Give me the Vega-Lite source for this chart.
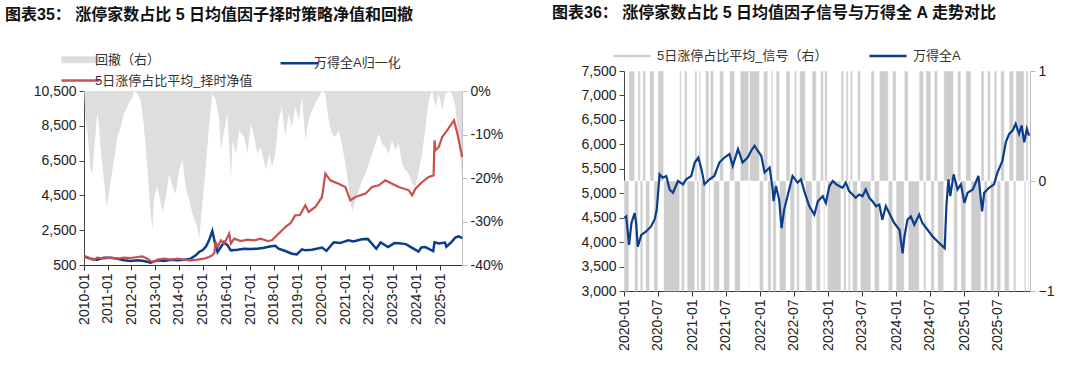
{
  "$schema": "https://vega.github.io/schema/vega-lite/v6.json",
  "padding": {"left": 5, "top": 5, "right": 5, "bottom": 5},
  "background": "white",
  "config": {
    "view": {"stroke": null},
    "font": "Liberation Sans, Noto Sans CJK SC",
    "axis": {"labelFont": "Liberation Sans", "labelFontSize": 14, "labelColor": "#222", "grid": false, "domainColor": "#444", "tickColor": "#444", "tickSize": 5, "labelPadding": 3, "title": null},
    "legend": {"labelFont": "Liberation Sans, Noto Sans CJK SC", "labelFontSize": 13, "labelColor": "#333"},
    "title": {"font": "Liberation Sans, Noto Sans CJK SC", "fontSize": 16, "fontWeight": "bold", "color": "#111", "anchor": "start", "frame": "group"},
    "concat": {"spacing": 42}
  },
  "resolve": {"scale": {"color": "independent"}, "legend": {"color": "independent"}},
  "datasets": {
    "dd": [
      {"date": "2010-01-04", "value": 0}, {"date": "2010-01-27", "value": -7}, {"date": "2010-02-21", "value": -9}, {"date": "2010-04-12", "value": -18}, {"date": "2010-05-08", "value": -19}, {"date": "2010-06-03", "value": -14.4}, {"date": "2010-07-12", "value": -6.7}, {"date": "2010-08-03", "value": -5.2}, {"date": "2010-09-13", "value": -12.9}, {"date": "2010-11-03", "value": -20.5}, {"date": "2010-12-17", "value": -26.7},
      {"date": "2011-01-19", "value": -23.6}, {"date": "2011-03-14", "value": -18.2}, {"date": "2011-05-30", "value": -10.6}, {"date": "2011-07-19", "value": -8.3}, {"date": "2011-09-09", "value": -5.2}, {"date": "2011-10-30", "value": -3.7},
      {"date": "2012-01-15", "value": -1.4}, {"date": "2012-02-10", "value": 0}, {"date": "2012-04-01", "value": -0.6}, {"date": "2012-05-22", "value": -2.1}, {"date": "2012-07-12", "value": -8.3}, {"date": "2012-09-02", "value": -17.5}, {"date": "2012-10-23", "value": -28.2}, {"date": "2012-11-18", "value": -32}, {"date": "2012-12-13", "value": -24.4},
      {"date": "2013-02-03", "value": -22}, {"date": "2013-04-23", "value": -27.8}, {"date": "2013-06-13", "value": -24.4}, {"date": "2013-08-04", "value": -19}, {"date": "2013-09-24", "value": -22}, {"date": "2013-11-14", "value": -23.6},
      {"date": "2014-01-04", "value": -18.2}, {"date": "2014-02-25", "value": -16}, {"date": "2014-04-16", "value": -22.4}, {"date": "2014-06-06", "value": -24.8}, {"date": "2014-07-27", "value": -28.2}, {"date": "2014-10-12", "value": -31.4}, {"date": "2014-11-07", "value": -34}, {"date": "2014-12-28", "value": -26},
      {"date": "2015-02-17", "value": -17.5}, {"date": "2015-04-09", "value": -8.3}, {"date": "2015-05-30", "value": -0.6}, {"date": "2015-07-24", "value": -2.1}, {"date": "2015-09-13", "value": -6.7}, {"date": "2015-10-08", "value": -13.6}, {"date": "2015-11-28", "value": -9},
      {"date": "2016-01-19", "value": -5.2}, {"date": "2016-03-10", "value": -20.5}, {"date": "2016-04-05", "value": -11.3}, {"date": "2016-05-26", "value": -14.4}, {"date": "2016-07-16", "value": -9}, {"date": "2016-10-01", "value": -10.6}, {"date": "2016-11-21", "value": -14.4},
      {"date": "2017-01-12", "value": -7.5}, {"date": "2017-03-04", "value": -10.6}, {"date": "2017-04-23", "value": -14.4}, {"date": "2017-06-13", "value": -12.9}, {"date": "2017-09-02", "value": -18.2}, {"date": "2017-10-23", "value": -14.4}, {"date": "2017-12-02", "value": -17.5},
      {"date": "2018-01-23", "value": -14.4}, {"date": "2018-03-14", "value": -6.7}, {"date": "2018-05-04", "value": -3.7}, {"date": "2018-06-25", "value": -10.6}, {"date": "2018-08-15", "value": -5.2}, {"date": "2018-10-05", "value": -8.3}, {"date": "2018-11-25", "value": -3.7},
      {"date": "2019-01-19", "value": -6.7}, {"date": "2019-03-10", "value": -1.4}, {"date": "2019-04-30", "value": -11.3}, {"date": "2019-06-20", "value": -6.7}, {"date": "2019-08-10", "value": -4.4}, {"date": "2019-10-27", "value": -2.1},
      {"date": "2020-01-12", "value": 0}, {"date": "2020-03-03", "value": -0.6}, {"date": "2020-04-23", "value": -6.7}, {"date": "2020-06-13", "value": -9.8}, {"date": "2020-08-03", "value": -10.6}, {"date": "2020-09-23", "value": -9}, {"date": "2020-11-13", "value": -12.1},
      {"date": "2021-01-05", "value": -16.7}, {"date": "2021-02-25", "value": -22}, {"date": "2021-04-19", "value": -28}, {"date": "2021-06-09", "value": -25}, {"date": "2021-07-31", "value": -22.8}, {"date": "2021-09-20", "value": -20.5}, {"date": "2021-11-10", "value": -19},
      {"date": "2022-01-01", "value": -16.7}, {"date": "2022-02-21", "value": -14.4}, {"date": "2022-04-13", "value": -12.1}, {"date": "2022-06-03", "value": -9.8}, {"date": "2022-07-24", "value": -12.1}, {"date": "2022-09-13", "value": -12.9}, {"date": "2022-11-03", "value": -14.4}, {"date": "2022-12-25", "value": -11.3},
      {"date": "2023-02-14", "value": -13.6}, {"date": "2023-04-06", "value": -12.1}, {"date": "2023-05-27", "value": -16.7}, {"date": "2023-07-20", "value": -18.2}, {"date": "2023-09-09", "value": -19}, {"date": "2023-10-30", "value": -21.3}, {"date": "2023-12-20", "value": -22},
      {"date": "2024-02-10", "value": -18.2}, {"date": "2024-04-01", "value": -14.4}, {"date": "2024-05-22", "value": -8.3}, {"date": "2024-07-12", "value": -2.1}, {"date": "2024-09-02", "value": 0}, {"date": "2024-10-23", "value": -3.7}, {"date": "2024-12-13", "value": -0.6},
      {"date": "2025-02-03", "value": -4.4}, {"date": "2025-03-26", "value": -0.6}, {"date": "2025-05-16", "value": 0}, {"date": "2025-07-05", "value": -0.6}, {"date": "2025-08-25", "value": -3.7}, {"date": "2025-10-19", "value": -12}, {"date": "2025-12-08", "value": -20}
    ],
    "blue": [
      {"date": "2010-01-04", "value": 1000}, {"date": "2010-04-12", "value": 864}, {"date": "2010-07-22", "value": 807}, {"date": "2010-11-03", "value": 921},
      {"date": "2011-02-16", "value": 921}, {"date": "2011-05-30", "value": 864}, {"date": "2011-09-09", "value": 768}, {"date": "2011-12-20", "value": 730},
      {"date": "2012-04-01", "value": 768}, {"date": "2012-07-12", "value": 730}, {"date": "2012-10-23", "value": 634},
      {"date": "2013-02-03", "value": 768}, {"date": "2013-05-19", "value": 730}, {"date": "2013-08-29", "value": 807}, {"date": "2013-12-09", "value": 768},
      {"date": "2014-03-20", "value": 807}, {"date": "2014-07-01", "value": 864}, {"date": "2014-09-17", "value": 1056}, {"date": "2014-11-07", "value": 1247}, {"date": "2014-12-28", "value": 1343},
      {"date": "2015-02-17", "value": 1535}, {"date": "2015-04-09", "value": 1918}, {"date": "2015-05-30", "value": 2454}, {"date": "2015-07-12", "value": 1726}, {"date": "2015-08-18", "value": 1247}, {"date": "2015-10-08", "value": 1535}, {"date": "2015-11-28", "value": 1822},
      {"date": "2016-01-19", "value": 1630}, {"date": "2016-03-10", "value": 1343}, {"date": "2016-06-20", "value": 1381}, {"date": "2016-10-01", "value": 1439},
      {"date": "2017-01-12", "value": 1420}, {"date": "2017-04-23", "value": 1439}, {"date": "2017-08-03", "value": 1496}, {"date": "2017-11-17", "value": 1573},
      {"date": "2018-01-23", "value": 1600}, {"date": "2018-03-14", "value": 1439}, {"date": "2018-06-25", "value": 1305}, {"date": "2018-10-05", "value": 1151}, {"date": "2018-12-20", "value": 1113},
      {"date": "2019-03-10", "value": 1400}, {"date": "2019-04-30", "value": 1343}, {"date": "2019-08-10", "value": 1381},
      {"date": "2020-01-12", "value": 1505}, {"date": "2020-03-20", "value": 1310}, {"date": "2020-07-10", "value": 1805}, {"date": "2020-10-15", "value": 1760},
      {"date": "2021-02-18", "value": 1920}, {"date": "2021-05-10", "value": 1850}, {"date": "2021-09-15", "value": 1980}, {"date": "2021-12-15", "value": 2000},
      {"date": "2022-04-26", "value": 1436}, {"date": "2022-07-01", "value": 1795}, {"date": "2022-10-25", "value": 1530},
      {"date": "2023-01-30", "value": 1760}, {"date": "2023-04-15", "value": 1745}, {"date": "2023-07-25", "value": 1700}, {"date": "2023-10-23", "value": 1495},
      {"date": "2024-02-05", "value": 1265}, {"date": "2024-03-20", "value": 1515}, {"date": "2024-05-20", "value": 1530}, {"date": "2024-09-18", "value": 1300}, {"date": "2024-10-08", "value": 1800}, {"date": "2024-12-15", "value": 1735},
      {"date": "2025-03-18", "value": 1790}, {"date": "2025-04-08", "value": 1550}, {"date": "2025-06-25", "value": 1815}, {"date": "2025-08-25", "value": 2080}, {"date": "2025-10-10", "value": 2150}, {"date": "2025-11-25", "value": 2070}, {"date": "2025-12-08", "value": 2090}
    ],
    "red": [
      {"date": "2010-01-04", "value": 1000}, {"date": "2010-02-21", "value": 960}, {"date": "2010-04-12", "value": 850}, {"date": "2010-06-03", "value": 790}, {"date": "2010-07-22", "value": 921}, {"date": "2010-09-13", "value": 900}, {"date": "2010-11-03", "value": 864},
      {"date": "2011-02-16", "value": 921}, {"date": "2011-05-30", "value": 864}, {"date": "2011-09-09", "value": 921}, {"date": "2011-12-20", "value": 902},
      {"date": "2012-04-01", "value": 960}, {"date": "2012-06-17", "value": 998}, {"date": "2012-09-02", "value": 864}, {"date": "2012-10-23", "value": 730}, {"date": "2012-12-13", "value": 672},
      {"date": "2013-02-03", "value": 807}, {"date": "2013-05-19", "value": 864}, {"date": "2013-08-29", "value": 807}, {"date": "2013-12-09", "value": 864},
      {"date": "2014-03-20", "value": 807}, {"date": "2014-07-01", "value": 768}, {"date": "2014-10-12", "value": 807},
      {"date": "2015-01-23", "value": 864}, {"date": "2015-04-09", "value": 960}, {"date": "2015-05-30", "value": 1056}, {"date": "2015-07-01", "value": 1200}, {"date": "2015-07-19", "value": 1822}, {"date": "2015-08-18", "value": 1535}, {"date": "2015-10-08", "value": 1918}, {"date": "2015-11-28", "value": 1726},
      {"date": "2016-01-19", "value": 2109}, {"date": "2016-02-14", "value": 2301}, {"date": "2016-03-10", "value": 1726}, {"date": "2016-04-30", "value": 2013}, {"date": "2016-08-10", "value": 1880}, {"date": "2016-11-21", "value": 1956},
      {"date": "2017-03-04", "value": 1918}, {"date": "2017-06-13", "value": 2013}, {"date": "2017-09-27", "value": 1880}, {"date": "2017-12-02", "value": 1918},
      {"date": "2018-03-14", "value": 2300}, {"date": "2018-06-25", "value": 2684}, {"date": "2018-09-13", "value": 2900}, {"date": "2018-11-25", "value": 3355},
      {"date": "2019-02-06", "value": 3374}, {"date": "2019-04-30", "value": 3930}, {"date": "2019-06-20", "value": 3546}, {"date": "2019-10-01", "value": 3834},
      {"date": "2020-01-12", "value": 4409}, {"date": "2020-03-03", "value": 5750}, {"date": "2020-05-18", "value": 5367}, {"date": "2020-09-23", "value": 5175},
      {"date": "2021-01-05", "value": 4983}, {"date": "2021-03-22", "value": 4217}, {"date": "2021-06-09", "value": 4409}, {"date": "2021-11-10", "value": 4600},
      {"date": "2022-02-21", "value": 4983}, {"date": "2022-06-03", "value": 5079}, {"date": "2022-09-13", "value": 5367}, {"date": "2022-12-25", "value": 5175},
      {"date": "2023-04-06", "value": 4983}, {"date": "2023-09-09", "value": 4792}, {"date": "2023-10-30", "value": 4504}, {"date": "2023-12-20", "value": 4888},
      {"date": "2024-04-01", "value": 5271}, {"date": "2024-07-12", "value": 5558}, {"date": "2024-09-24", "value": 5650}, {"date": "2024-10-08", "value": 7666}, {"date": "2024-10-23", "value": 7091}, {"date": "2024-12-13", "value": 7283},
      {"date": "2025-02-03", "value": 7857}, {"date": "2025-04-20", "value": 8241}, {"date": "2025-08-04", "value": 8815}, {"date": "2025-09-25", "value": 8049}, {"date": "2025-12-08", "value": 6708}
    ],
    "wa": [
      {"date": "2020-01-02", "value": 4493}, {"date": "2020-01-13", "value": 4527}, {"date": "2020-01-28", "value": 3943}, {"date": "2020-02-10", "value": 4390}, {"date": "2020-02-27", "value": 4596}, {"date": "2020-03-06", "value": 4390}, {"date": "2020-03-15", "value": 3908}, {"date": "2020-04-03", "value": 4149}, {"date": "2020-04-29", "value": 4218}, {"date": "2020-05-25", "value": 4321}, {"date": "2020-06-13", "value": 4459}, {"date": "2020-06-25", "value": 4665}, {"date": "2020-07-10", "value": 5387}, {"date": "2020-07-27", "value": 5318}, {"date": "2020-08-15", "value": 5353}, {"date": "2020-09-02", "value": 5078}, {"date": "2020-09-20", "value": 5009}, {"date": "2020-10-17", "value": 5250}, {"date": "2020-11-13", "value": 5181}, {"date": "2020-11-30", "value": 5284}, {"date": "2020-12-27", "value": 5353},
      {"date": "2021-01-15", "value": 5628}, {"date": "2021-02-03", "value": 5731}, {"date": "2021-02-20", "value": 5491}, {"date": "2021-03-08", "value": 5181}, {"date": "2021-04-04", "value": 5284}, {"date": "2021-04-30", "value": 5353}, {"date": "2021-05-27", "value": 5628}, {"date": "2021-06-23", "value": 5731}, {"date": "2021-07-20", "value": 5800}, {"date": "2021-08-07", "value": 5559}, {"date": "2021-09-04", "value": 5903}, {"date": "2021-09-29", "value": 5628}, {"date": "2021-10-26", "value": 5731}, {"date": "2021-11-14", "value": 5869}, {"date": "2021-12-02", "value": 5972}, {"date": "2021-12-19", "value": 5869},
      {"date": "2022-01-07", "value": 5766}, {"date": "2022-01-25", "value": 5422}, {"date": "2022-02-21", "value": 5525}, {"date": "2022-03-09", "value": 5078}, {"date": "2022-03-14", "value": 4837}, {"date": "2022-03-27", "value": 5147}, {"date": "2022-04-13", "value": 4871}, {"date": "2022-04-26", "value": 4287}, {"date": "2022-05-10", "value": 4665}, {"date": "2022-05-28", "value": 4940}, {"date": "2022-06-24", "value": 5353}, {"date": "2022-07-21", "value": 5216}, {"date": "2022-08-08", "value": 5284}, {"date": "2022-08-26", "value": 5043}, {"date": "2022-09-22", "value": 4734}, {"date": "2022-10-19", "value": 4562}, {"date": "2022-11-07", "value": 4837}, {"date": "2022-12-03", "value": 4940}, {"date": "2022-12-20", "value": 4800},
      {"date": "2023-01-08", "value": 5147}, {"date": "2023-01-26", "value": 5250}, {"date": "2023-02-14", "value": 5181}, {"date": "2023-03-01", "value": 5147}, {"date": "2023-03-19", "value": 5112}, {"date": "2023-04-06", "value": 5216}, {"date": "2023-04-24", "value": 5043}, {"date": "2023-05-12", "value": 4974}, {"date": "2023-05-29", "value": 4906}, {"date": "2023-06-17", "value": 4974}, {"date": "2023-07-05", "value": 4940}, {"date": "2023-07-22", "value": 5078}, {"date": "2023-08-10", "value": 4906}, {"date": "2023-08-27", "value": 4837}, {"date": "2023-09-15", "value": 4734}, {"date": "2023-10-03", "value": 4768}, {"date": "2023-10-19", "value": 4459}, {"date": "2023-11-07", "value": 4734}, {"date": "2023-11-25", "value": 4596}, {"date": "2023-12-22", "value": 4390},
      {"date": "2024-01-19", "value": 4252}, {"date": "2024-02-05", "value": 3771}, {"date": "2024-02-15", "value": 4115}, {"date": "2024-03-02", "value": 4459}, {"date": "2024-03-20", "value": 4527}, {"date": "2024-04-08", "value": 4355}, {"date": "2024-05-04", "value": 4562}, {"date": "2024-05-21", "value": 4390}, {"date": "2024-06-18", "value": 4252}, {"date": "2024-07-15", "value": 4115}, {"date": "2024-08-11", "value": 4011}, {"date": "2024-09-18", "value": 3874}, {"date": "2024-09-27", "value": 4734}, {"date": "2024-10-08", "value": 5284}, {"date": "2024-10-18", "value": 4940}, {"date": "2024-11-05", "value": 5387}, {"date": "2024-11-26", "value": 5078}, {"date": "2024-12-14", "value": 5181},
      {"date": "2025-01-02", "value": 4803}, {"date": "2025-01-19", "value": 5009}, {"date": "2025-02-16", "value": 5078}, {"date": "2025-03-18", "value": 5353}, {"date": "2025-04-07", "value": 4630}, {"date": "2025-04-18", "value": 5009}, {"date": "2025-05-14", "value": 5112}, {"date": "2025-06-10", "value": 5181}, {"date": "2025-06-28", "value": 5422}, {"date": "2025-07-25", "value": 5663}, {"date": "2025-08-12", "value": 6041}, {"date": "2025-08-30", "value": 6213}, {"date": "2025-09-18", "value": 6282}, {"date": "2025-10-04", "value": 6419}, {"date": "2025-10-22", "value": 6213}, {"date": "2025-11-05", "value": 6385}, {"date": "2025-11-19", "value": 6041}, {"date": "2025-12-03", "value": 6316}, {"date": "2025-12-15", "value": 6178}
    ],
    "sig": [
      {"s": "2020-01-01", "e": "2020-01-28", "v": -1}, {"s": "2020-01-28", "e": "2020-02-27", "v": 1}, {"s": "2020-02-27", "e": "2020-03-16", "v": -1}, {"s": "2020-03-16", "e": "2020-03-28", "v": 1}, {"s": "2020-03-28", "e": "2020-04-11", "v": -1}, {"s": "2020-04-11", "e": "2020-04-26", "v": 1}, {"s": "2020-04-26", "e": "2020-05-18", "v": -1}, {"s": "2020-05-18", "e": "2020-06-10", "v": 1}, {"s": "2020-06-10", "e": "2020-07-01", "v": -1}, {"s": "2020-07-01", "e": "2020-08-01", "v": 1}, {"s": "2020-08-01", "e": "2020-10-26", "v": -1}, {"s": "2020-10-26", "e": "2020-11-04", "v": 1}, {"s": "2020-11-04", "e": "2020-11-20", "v": -1}, {"s": "2020-11-20", "e": "2020-12-05", "v": 1}, {"s": "2020-12-05", "e": "2021-01-15", "v": -1},
      {"s": "2021-01-15", "e": "2021-01-27", "v": 1}, {"s": "2021-01-27", "e": "2021-02-07", "v": -1}, {"s": "2021-02-07", "e": "2021-02-16", "v": 1}, {"s": "2021-02-16", "e": "2021-03-14", "v": -1}, {"s": "2021-03-14", "e": "2021-04-01", "v": 1}, {"s": "2021-04-01", "e": "2021-04-08", "v": -1}, {"s": "2021-04-08", "e": "2021-04-26", "v": 1}, {"s": "2021-04-26", "e": "2021-05-28", "v": -1}, {"s": "2021-05-28", "e": "2021-06-19", "v": 1}, {"s": "2021-06-19", "e": "2021-07-21", "v": -1}, {"s": "2021-07-21", "e": "2021-08-17", "v": 1}, {"s": "2021-08-17", "e": "2021-09-16", "v": -1}, {"s": "2021-09-16", "e": "2021-11-01", "v": 1}, {"s": "2021-11-01", "e": "2021-11-05", "v": -1}, {"s": "2021-11-05", "e": "2021-12-28", "v": 1}, {"s": "2021-12-28", "e": "2022-01-19", "v": -1},
      {"s": "2022-01-19", "e": "2022-02-11", "v": 1}, {"s": "2022-02-11", "e": "2022-03-01", "v": -1}, {"s": "2022-03-01", "e": "2022-03-10", "v": 1}, {"s": "2022-03-10", "e": "2022-03-28", "v": -1}, {"s": "2022-03-28", "e": "2022-04-15", "v": 1}, {"s": "2022-04-15", "e": "2022-05-20", "v": -1}, {"s": "2022-05-20", "e": "2022-06-11", "v": 1}, {"s": "2022-06-11", "e": "2022-07-04", "v": -1}, {"s": "2022-07-04", "e": "2022-07-16", "v": 1}, {"s": "2022-07-16", "e": "2022-07-31", "v": -1}, {"s": "2022-07-31", "e": "2022-09-01", "v": 1}, {"s": "2022-09-01", "e": "2022-10-07", "v": -1}, {"s": "2022-10-07", "e": "2022-10-29", "v": 1}, {"s": "2022-10-29", "e": "2022-11-21", "v": -1}, {"s": "2022-11-21", "e": "2022-12-07", "v": 1}, {"s": "2022-12-07", "e": "2022-12-14", "v": -1}, {"s": "2022-12-14", "e": "2022-12-28", "v": 1}, {"s": "2022-12-28", "e": "2023-03-11", "v": -1},
      {"s": "2023-03-11", "e": "2023-03-25", "v": 1}, {"s": "2023-03-25", "e": "2023-04-07", "v": -1}, {"s": "2023-04-07", "e": "2023-04-19", "v": 1}, {"s": "2023-04-19", "e": "2023-04-30", "v": -1}, {"s": "2023-04-30", "e": "2023-05-12", "v": 1}, {"s": "2023-05-12", "e": "2023-06-08", "v": -1}, {"s": "2023-06-08", "e": "2023-06-23", "v": 1}, {"s": "2023-06-23", "e": "2023-08-19", "v": -1}, {"s": "2023-08-19", "e": "2023-09-06", "v": 1}, {"s": "2023-09-06", "e": "2023-10-03", "v": -1}, {"s": "2023-10-03", "e": "2023-11-20", "v": 1}, {"s": "2023-11-20", "e": "2023-12-13", "v": -1}, {"s": "2023-12-13", "e": "2024-01-01", "v": 1},
      {"s": "2024-01-01", "e": "2024-02-14", "v": -1}, {"s": "2024-02-14", "e": "2024-03-06", "v": 1}, {"s": "2024-03-06", "e": "2024-05-04", "v": -1}, {"s": "2024-05-04", "e": "2024-05-28", "v": 1}, {"s": "2024-05-28", "e": "2024-06-09", "v": -1}, {"s": "2024-06-09", "e": "2024-07-06", "v": 1}, {"s": "2024-07-06", "e": "2024-07-24", "v": -1}, {"s": "2024-07-24", "e": "2024-08-11", "v": 1}, {"s": "2024-08-11", "e": "2024-09-13", "v": -1}, {"s": "2024-09-13", "e": "2024-11-05", "v": 1}, {"s": "2024-11-05", "e": "2024-11-26", "v": -1}, {"s": "2024-11-26", "e": "2024-12-14", "v": 1}, {"s": "2024-12-14", "e": "2025-01-10", "v": -1},
      {"s": "2025-01-10", "e": "2025-02-06", "v": 1}, {"s": "2025-02-06", "e": "2025-04-01", "v": -1}, {"s": "2025-04-01", "e": "2025-04-18", "v": 1}, {"s": "2025-04-18", "e": "2025-05-06", "v": -1}, {"s": "2025-05-06", "e": "2025-05-21", "v": 1}, {"s": "2025-05-21", "e": "2025-06-11", "v": -1}, {"s": "2025-06-11", "e": "2025-06-25", "v": 1}, {"s": "2025-06-25", "e": "2025-07-16", "v": -1}, {"s": "2025-07-16", "e": "2025-08-04", "v": 1}, {"s": "2025-08-04", "e": "2025-08-30", "v": -1}, {"s": "2025-08-30", "e": "2025-09-23", "v": 1}, {"s": "2025-09-23", "e": "2025-10-05", "v": -1}, {"s": "2025-10-05", "e": "2025-11-19", "v": 1}, {"s": "2025-11-19", "e": "2025-11-28", "v": -1}, {"s": "2025-11-28", "e": "2025-12-10", "v": 1}, {"s": "2025-12-10", "e": "2025-12-15", "v": -1}
    ]
  },
  "hconcat": [
    {
      "title": {"text": "图表35：  涨停家数占比 5 日均值因子择时策略净值和回撤", "dx": -79, "offset": 30},
      "width": 378,
      "height": 194,
      "layer": [
        {
          "data": {"name": "dd"},
          "mark": {"type": "area", "interpolate": "linear"},
          "encoding": {
            "x": {"field": "date", "type": "temporal", "scale": {"domain": [{"year": 2010, "month": 1, "date": 1}, {"year": 2025, "month": 12, "date": 5}]}, "axis": {"format": "%Y-%m", "tickCount": {"interval": "year", "step": 1}, "labelAngle": -90, "labelAlign": "right", "labelBaseline": "middle", "domainColor": "#333", "tickColor": "#333"}},
            "y": {"field": "value", "type": "quantitative", "stack": null, "scale": {"domain": [-40, 0], "range": [194, 20], "nice": false, "zero": false}, "axis": {"orient": "right", "values": [0, -10, -20, -30, -40], "labelExpr": "datum.value + '%'", "domainColor": "#bbb", "tickColor": "#bbb", "minExtent": 48, "maxExtent": 48}},
            "color": {
              "datum": "回撤（右）",
              "scale": {"domain": ["回撤（右）", "万得全A归一化", "5日涨停占比平均_择时净值"], "range": ["#dedede", "#0b3d8c", "#c9504c"]},
              "legend": {
                "orient": "none", "legendX": -10, "legendY": -18, "columns": 2, "direction": "horizontal", "title": null,
                "symbolType": "stroke", "symbolSize": 1444, "symbolStrokeWidth": 2.5, "labelOffset": 8, "columnPadding": 22, "rowPadding": -6, "labelLimit": 300,
                "encode": {"symbols": {"update": {
                  "strokeWidth": {"signal": "datum.value === '回撤（右）' ? 7 : 2.5"},
                  "stroke": {"signal": "datum.value === '回撤（右）' ? '#dedede' : datum.value === '万得全A归一化' ? '#0b3d8c' : '#c9504c'"},
                  "fill": {"value": "transparent"}
                }}}
              }
            }
          }
        },
        {
          "data": {"name": "blue"},
          "mark": {"type": "line", "strokeWidth": 2.5},
          "encoding": {
            "x": {"field": "date", "type": "temporal"},
            "y": {"field": "value", "type": "quantitative", "scale": {"domain": [500, 10500], "range": [194, 20], "nice": false, "zero": false}, "axis": {"orient": "left", "values": [500, 2500, 4500, 6500, 8500, 10500], "labelExpr": "format(datum.value, ',')"}},
            "color": {"datum": "万得全A归一化"}
          }
        },
        {
          "data": {"name": "red"},
          "mark": {"type": "line", "strokeWidth": 2.2},
          "encoding": {
            "x": {"field": "date", "type": "temporal"},
            "y": {"field": "value", "type": "quantitative", "scale": {"domain": [500, 10500], "range": [194, 20], "nice": false, "zero": false}, "axis": null},
            "color": {"datum": "5日涨停占比平均_择时净值"}
          }
        }
      ],
      "resolve": {"scale": {"y": "independent"}}
    },
    {
      "title": {"text": "图表36：  涨停家数占比 5 日均值因子信号与万得全 A 走势对比", "dx": -72, "offset": 15},
      "width": 406,
      "height": 220,
      "layer": [
        {
          "data": {"name": "sig"},
          "mark": {"type": "rect", "stroke": "white", "strokeWidth": 0.5},
          "encoding": {
            "x": {"field": "s", "type": "temporal", "scale": {"domain": [{"year": 2020, "month": 1, "date": 1}, {"year": 2025, "month": 12, "date": 20}]}, "axis": {"format": "%Y-%m", "tickCount": {"interval": "month", "step": 6}, "labelAngle": -90, "labelAlign": "right", "labelBaseline": "middle", "domainColor": "#333", "tickColor": "#333"}},
            "x2": {"field": "e"},
            "y": {"field": "v", "type": "quantitative", "scale": {"domain": [-1, 1], "nice": false}, "axis": {"orient": "right", "values": [-1, 0, 1], "labelExpr": "format(datum.value, 'd')", "domainColor": "#bbb", "tickColor": "#bbb"}},
            "y2": {"datum": 0},
            "color": {
              "datum": "5日涨停占比平均_信号（右）",
              "scale": {"domain": ["5日涨停占比平均_信号（右）", "万得全A"], "range": ["#cdcdcd", "#0b3d8c"]},
              "legend": {
                "orient": "none", "legendX": -12, "legendY": -35, "columns": 2, "direction": "horizontal", "title": null,
                "symbolType": "stroke", "symbolSize": 1369, "symbolStrokeWidth": 2.5, "labelOffset": 5, "columnPadding": 36, "labelLimit": 300,
                "encode": {"symbols": {"update": {
                  "strokeWidth": {"signal": "datum.value === '万得全A' ? 2.5 : 7"},
                  "stroke": {"signal": "datum.value === '万得全A' ? '#0b3d8c' : '#cdcdcd'"},
                  "fill": {"value": "transparent"}
                }}}
              }
            }
          }
        },
        {
          "data": {"name": "wa"},
          "mark": {"type": "line", "strokeWidth": 2.2},
          "encoding": {
            "x": {"field": "date", "type": "temporal"},
            "y": {"field": "value", "type": "quantitative", "scale": {"domain": [3000, 7500], "nice": false, "zero": false}, "axis": {"orient": "left", "values": [3000, 3500, 4000, 4500, 5000, 5500, 6000, 6500, 7000, 7500], "labelExpr": "format(datum.value, ',')"}},
            "color": {"datum": "万得全A"}
          }
        }
      ],
      "resolve": {"scale": {"y": "independent"}}
    }
  ]
}
